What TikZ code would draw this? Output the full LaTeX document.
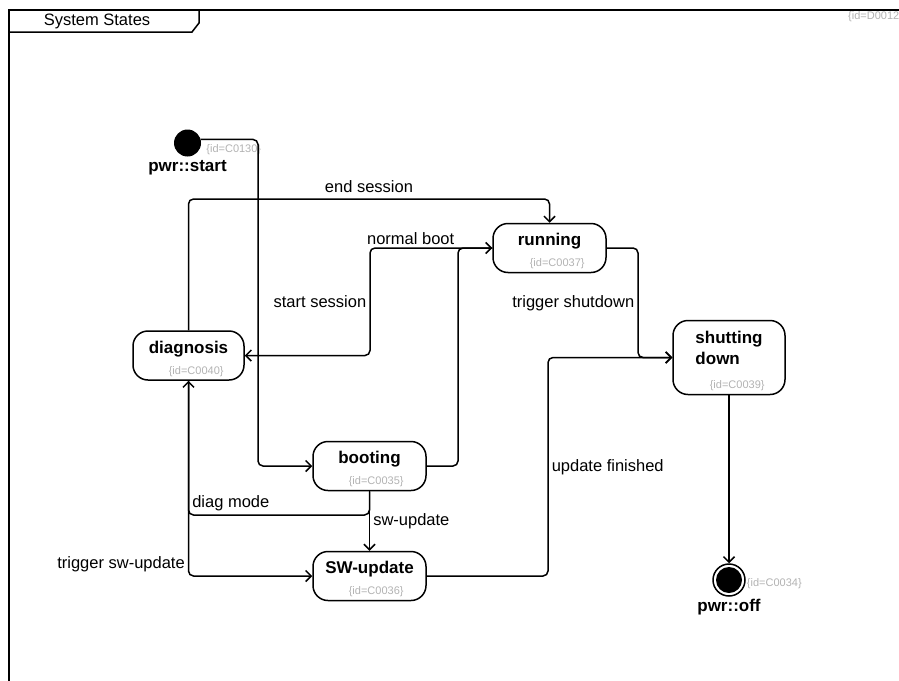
\documentclass[tikz,border=0pt]{standalone}
\usepackage{fontspec}
\setmainfont{Liberation Sans}
\usetikzlibrary{arrows.meta}

\definecolor{idgray}{RGB}{178,178,178}
\newcommand{\statefont}{\fontsize{17}{21}\bfseries\selectfont}
\newcommand{\labelfont}{\fontsize{16.5}{19}\selectfont}
\newcommand{\idfont}{\fontsize{11}{13}\selectfont}

\begin{document}
\begin{tikzpicture}[x=1pt, y=-1pt, >={Straight Barb[length=5.5pt,width=11pt]},
    state/.style={draw, line width=1.5pt, rounded corners=15pt, minimum width=113pt,
                  minimum height=49pt, font=\statefont, text depth=16.5pt},
    initial/.style={circle, fill, inner sep=0pt, minimum size=27pt},
    final/.style={circle, draw, line width=1.5pt, inner sep=0pt, minimum size=32pt,
                  path picture={\fill (path picture bounding box.center) circle (13pt);}},
    idtext/.style={font=\idfont, text=idgray, inner sep=0pt},
    tlabel/.style={font=\labelfont, inner sep=3pt},
    trans/.style={->, line width=1.5pt, rounded corners=5pt}]
    \useasboundingbox (0,0) rectangle (899,680);

    % frame
    \draw[line width=1.5pt] (9,690) -- (9,10) -- (905,10);
    \draw[line width=1.5pt] (9,32) -- (192,32) -- (199,23) -- (199,10);
    \node[font=\labelfont] (title) at (97,21) {System States};
    \node[idtext, anchor=west] (frameid) at (848,17) {\{id=D0012\}};

    % states
    \node[initial, label={[font=\statefont, inner sep=0pt, label distance=4pt]below:pwr::start},
          label={[idtext, anchor=north west, xshift=5pt, yshift=-1pt]east:\{id=C0130\}}]
          (start) at (187.5,143) {};
    \node[state, label={[idtext, anchor=south east, xshift=-22pt, yshift=4pt]south east:\{id=C0037\}}]
          (running) at (549.5,248) {running};
    \node[state, minimum width=112pt, minimum height=74pt, align=left, text depth=19pt,
          label={[idtext, anchor=south east, xshift=-21pt, yshift=4pt]south east:\{id=C0039\}}]
          (shut) at (729,357.5) {shutting\\down};
    \node[state, minimum width=111pt, label={[idtext, anchor=south east, xshift=-21pt, yshift=4pt]south east:\{id=C0040\}}]
          (diag) at (188.5,355.5) {diagnosis};
    \node[state, label={[idtext, anchor=south east, xshift=-23pt, yshift=4pt]south east:\{id=C0035\}}]
          (booting) at (369.5,466) {booting};
    \node[state, label={[idtext, anchor=south east, xshift=-23pt, yshift=4pt]south east:\{id=C0036\}}]
          (swup) at (369.5,576) {SW-update};
    \node[final, label={[font=\statefont, inner sep=0pt, label distance=2pt]below:pwr::off},
          label={[idtext, anchor=west, xshift=1pt, yshift=-4pt]east:\{id=C0034\}}]
          (off) at (729,580) {};

    % bends
    \coordinate (j1) at (258,466);
    \coordinate (j2) at (458,248);
    \coordinate (j3) at (370,248);
    \coordinate (j4) at (638,357.5);
    \coordinate (j5) at (548,357.5);
    \coordinate (j6) at (188.5,515);
    \coordinate (j7) at (549.5,199);

    % transitions
    \draw[trans] (start.15) -| (j1) -- (booting.west);
    \draw[trans] (diag.north) |- node[tlabel, above, yshift=3pt, pos=0.75] {end session} (j7) -- (running.north);
    \draw[trans] (booting.east) -| node[tlabel, anchor=south east, pos=1] {normal boot} (j2) -- (running.west);
    \draw[trans] (running.west) -- (j3) |- node[tlabel, left, pos=0.25] {start session} (diag.east);
    \draw[trans] (running.east) -| node[tlabel, left, pos=0.75] {trigger shutdown} (j4) -- (shut.west);
    \draw[trans] (swup.east) -| node[tlabel, right, pos=0.75] {update finished} (j5) -- (shut.west);
    \draw[trans] (booting.south) -- node[tlabel, right] {sw-update} (swup.north);
    \draw[trans] (booting.south) |- node[tlabel, anchor=south west, pos=1] {diag mode} (j6) -- (diag.south);
    \draw[trans] (diag.south) |- node[tlabel, anchor=south east, pos=0.5] {trigger sw-update} (swup.west);
    \draw[trans] (shut.south) -- (off.north);
\end{tikzpicture}
\end{document}
